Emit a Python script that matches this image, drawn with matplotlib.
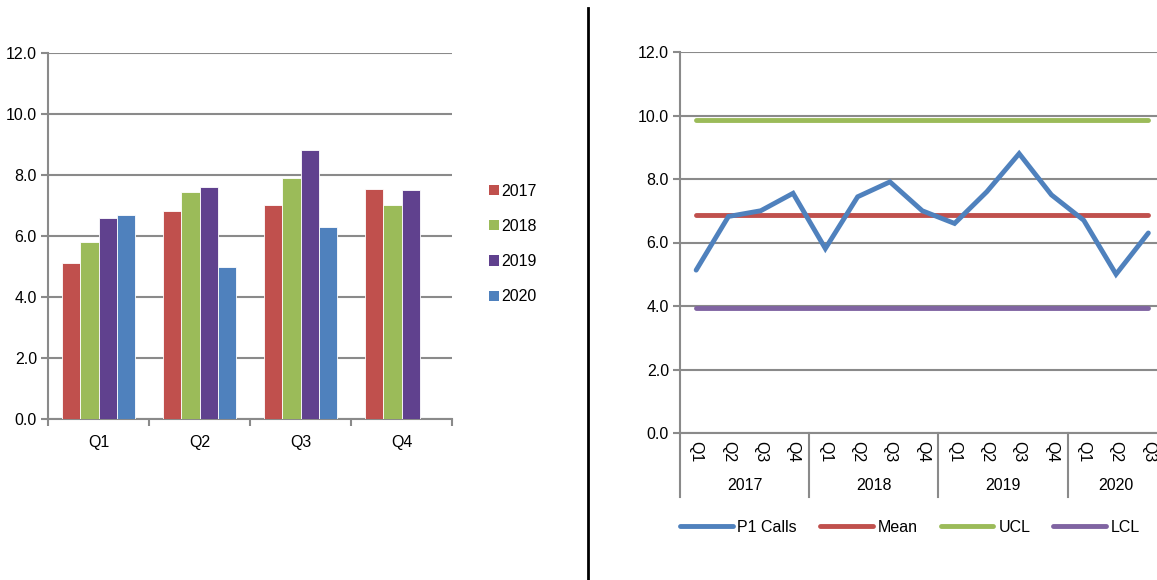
import matplotlib
matplotlib.use('Agg')
import matplotlib.pyplot as plt
from matplotlib.lines import Line2D
from matplotlib.patches import Patch
import numpy as np

plt.rcParams['font.family'] = ['Liberation Sans', 'DejaVu Sans']
plt.rcParams['font.size'] = 11.5

# bar chart data: calls by quarter, one series per year
quarters = ['Q1', 'Q2', 'Q3', 'Q4']
years = ['2017', '2018', '2019', '2020']
vals_2017 = [5.13, 6.82, 7.0, 7.55]
vals_2018 = [5.81, 7.44, 7.91, 7.0]
vals_2019 = [6.6, 7.6, 8.8, 7.5]
vals_2020 = [6.7, 5.0, 6.29, None]

# control chart data
p1_calls = [5.13, 6.82, 7.0, 7.55, 5.81, 7.44, 7.91, 7.0,
            6.6, 7.6, 8.8, 7.5, 6.7, 5.0, 6.3]
mean_val = 6.88
ucl_val = 9.86
lcl_val = 3.94
point_q = ['Q1', 'Q2', 'Q3', 'Q4'] * 3 + ['Q1', 'Q2', 'Q3']
point_year = ['2017'] * 4 + ['2018'] * 4 + ['2019'] * 4 + ['2020'] * 3

bar_colors = ['#C0504D', '#9BBB59', '#60418E', '#4F81BD']
grid_c = '#8A8A8A'
lw = 3.5

fig = plt.figure(figsize=(11.57, 5.8), dpi=100)

# ---- left: grouped bars ----
ax1 = fig.add_axes([48 / 1157, 1 - 419.3 / 580, 404 / 1157, 366.6 / 580])
x = np.arange(len(quarters))
w = 0.18
series = [vals_2017, vals_2018, vals_2019, vals_2020]
for i, s in enumerate(series):
    xs = [xi + (i - 1.5) * w for xi, v in zip(x, s) if v is not None]
    vs = [v for v in s if v is not None]
    ax1.bar(xs, vs, width=w, color=bar_colors[i], edgecolor='white', linewidth=0.6, zorder=3)
ax1.set_ylim(0, 12)
ax1.set_xlim(-0.5, 3.5)
ax1.set_yticks(np.arange(0, 12.1, 2))
ax1.set_yticklabels(['%.1f' % t for t in np.arange(0, 12.1, 2)])
ax1.set_xticks(x)
ax1.set_xticklabels(quarters)
ax1.set_xticks(np.arange(-0.5, 3.6, 1), minor=True)
ax1.tick_params(axis='x', which='major', length=0, pad=11)
ax1.tick_params(axis='x', which='minor', length=5, color=grid_c, width=1.5)
ax1.tick_params(axis='y', length=5, color=grid_c, width=1.5, pad=3)
ax1.yaxis.grid(True, color=grid_c, linewidth=1.5, zorder=0)
for side in ['top', 'right']:
    ax1.spines[side].set_visible(False)
for side in ['left', 'bottom']:
    ax1.spines[side].set_color(grid_c)
    ax1.spines[side].set_linewidth(1.5)

handles = [Patch(facecolor=c, edgecolor='none') for c in bar_colors]
fig.legend(handles, years, loc='center left', bbox_to_anchor=(475 / 1157, 1 - 244 / 580),
           frameon=False, handlelength=0.6, handleheight=0.6, handletextpad=0.15,
           labelspacing=1.27)

# divider line between charts
fig.add_artist(Line2D([588 / 1157, 588 / 1157], [0, 1 - 8 / 580], color='black', linewidth=2))

# ---- right: control chart ----
ax2 = fig.add_axes([680 / 1157, 1 - 433 / 580, 484.5 / 1157, 381 / 580])
n = len(p1_calls)
px = np.arange(n)
ax2.plot(px, [ucl_val] * n, color='#9BBB59', linewidth=lw, solid_capstyle='round', zorder=3)
ax2.plot(px, [lcl_val] * n, color='#8064A2', linewidth=lw, solid_capstyle='round', zorder=3)
ax2.plot(px, [mean_val] * n, color='#C0504D', linewidth=lw, solid_capstyle='round', zorder=3)
ax2.plot(px, p1_calls, color='#4F81BD', linewidth=lw, solid_capstyle='round', solid_joinstyle='miter', zorder=4)
ax2.set_ylim(0, 12)
ax2.set_xlim(-0.5, n - 0.5)
ax2.set_yticks(np.arange(0, 12.1, 2))
ax2.set_yticklabels(['%.1f' % t for t in np.arange(0, 12.1, 2)])
ax2.tick_params(axis='y', length=5, color=grid_c, width=1.5, pad=3)
ax2.yaxis.grid(True, color=grid_c, linewidth=1.5, zorder=0)
ax2.set_xticks([])
for side in ['top', 'right']:
    ax2.spines[side].set_visible(False)
for side in ['left', 'bottom']:
    ax2.spines[side].set_color(grid_c)
    ax2.spines[side].set_linewidth(1.5)

# two-level category axis
tr = ax2.get_xaxis_transform()
for i in range(n):
    ax2.text(px[i], -0.022, point_q[i], rotation=-90, ha='center', va='top',
             transform=tr)
year_names = ['2017', '2018', '2019', '2020']
for yname in year_names:
    idx = [i for i in range(n) if point_year[i] == yname]
    lo, hi = idx[0] - 0.5, idx[-1] + 0.5
    ax2.text((lo + hi) / 2, -0.138, yname, ha='center', va='center', transform=tr)
    ax2.plot([lo, lo], [0, -0.168], transform=tr, color=grid_c, linewidth=1.5, clip_on=False)

h2 = [Line2D([], [], color=c, linewidth=lw, solid_capstyle='round')
      for c in ['#4F81BD', '#C0504D', '#9BBB59', '#8064A2']]
fig.legend(h2, ['P1 Calls', 'Mean', 'UCL', 'LCL'], loc='center', ncol=4,
           bbox_to_anchor=(910 / 1157, 1 - 527 / 580), frameon=False,
           handlelength=3.3, handletextpad=0.3, columnspacing=1.45)

fig.savefig('out.png', dpi=100)
